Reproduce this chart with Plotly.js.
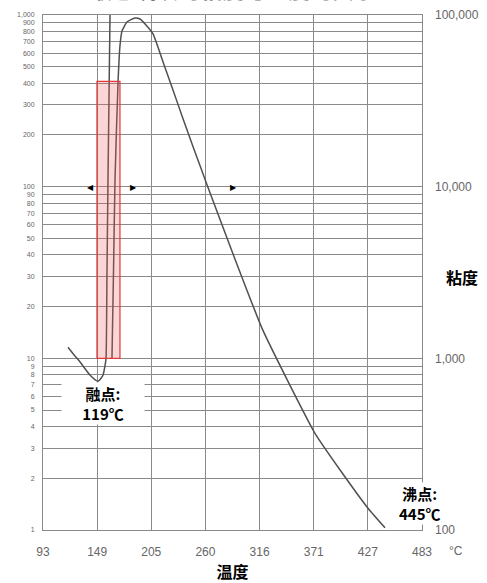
<!DOCTYPE html>
<html><head><meta charset="utf-8">
<script src="https://cdn.plot.ly/plotly-3.0.1.min.js"></script>
<style>html,body{margin:0;padding:0;background:#fff;}#chart{width:487px;height:583px;}</style>
</head><body><div id="chart"></div>
<script>
// Low-viscosity branch (left scale, cP)
const lowTemp = [119, 125, 131.5, 141.7, 149.8, 154.9, 157, 158, 159, 160, 161, 162.1];
const lowVisc = [11.6, 10.5, 9.5, 7.97, 7.35, 7.97, 9.1, 10, 32, 108, 316, 1000];
// High-viscosity branch (right scale, cP)
const highTemp = [164.1, 165.7, 167.2, 170.3, 172.3, 174.4, 179.5, 187.7, 192.9, 199.0, 206.2, 216.5, 226.7, 237.0, 247.3, 261.6, 289.3, 318.1, 344.7, 372.4, 399.1, 426.8, 444.3];
const highVisc = [1000, 3250, 10830, 40250, 66000, 80700, 91000, 96100, 94800, 87500, 77600, 53300, 36600, 24850, 17090, 10270, 3918, 1494, 735, 366, 220, 134, 103];
// Axis ticks (°F grid converted to °C)
const xTickVals = [93.33, 148.89, 204.44, 260, 315.56, 371.11, 426.67, 482.22];
const xTickText = ['93', '149', '205', '260', '316', '371', '427', '483'];
const leftTickVals = [1,2,3,4,5,6,7,8,9,10,20,30,40,50,60,70,80,90,100,200,300,400,500,600,700,800,900,1000];
const leftTickText = ['1','2','3','4','5','6','7','8','9','10','20','30','40','50','60','70','80','90','100','200','300','400','500','600','700','800','900','1,000'];
const rightTickVals = [100, 1000, 10000, 100000];
const rightTickText = ['100', '1,000', '10,000', '100,000'];
// Highlighted transition region
const boxTemp = [148.7, 172.3];
const boxVisc = [10, 410];

const gridCol = '#8a8a8a';
const curve = {color: '#505050', width: 1.5, shape: 'spline', smoothing: 0.5};
const traces = [
  {x: lowTemp, y: lowVisc, mode: 'lines', line: curve, yaxis: 'y', hoverinfo: 'skip'},
  {x: highTemp, y: highVisc, mode: 'lines', line: curve, yaxis: 'y2', hoverinfo: 'skip'}
];
const cjk = 'Noto Sans CJK SC, sans-serif';
const layout = {
  width: 487, height: 583,
  margin: {l: 43, r: 65, t: 15, b: 53},
  paper_bgcolor: '#fff', plot_bgcolor: '#fff',
  showlegend: false,
  xaxis: {
    range: [93.33, 482.22], tickvals: xTickVals, ticktext: xTickText,
    showgrid: true, gridcolor: gridCol, gridwidth: 1, zeroline: false,
    showline: true, linecolor: gridCol, linewidth: 1, mirror: true, ticks: '',
    tickfont: {size: 12, color: '#666', family: 'Liberation Sans, Arial, sans-serif'},
    ticklabelstandoff: 11,
    title: {text: '温度', font: {size: 16, color: '#000', family: cjk, weight: 'bold'}, standoff: 10}
  },
  yaxis: {
    type: 'log', range: [0, 3], tickvals: leftTickVals, ticktext: leftTickText,
    showgrid: true, gridcolor: gridCol, gridwidth: 1, zeroline: false,
    showline: true, linecolor: gridCol, linewidth: 1, mirror: true, ticks: '',
    tickfont: {size: 7, color: '#666', family: 'Liberation Sans Narrow, Arial Narrow, sans-serif'},
    ticklabelstandoff: 6
  },
  yaxis2: {
    type: 'log', range: [2, 5], overlaying: 'y', side: 'right',
    tickvals: rightTickVals, ticktext: rightTickText,
    showgrid: false, zeroline: false, ticks: '', showline: false,
    tickfont: {size: 12, color: '#666', family: 'Liberation Sans, Arial, sans-serif'},
    ticklabelstandoff: 12
  },
  shapes: [
    {type: 'rect', xref: 'x', yref: 'y', x0: boxTemp[0], x1: boxTemp[1], y0: boxVisc[0], y1: boxVisc[1],
     fillcolor: 'rgba(240,90,90,0.25)', line: {color: '#e03a3a', width: 1.2}, layer: 'above'}
  ],
  annotations: [
    {xref: 'paper', yref: 'paper', x: 0.5, y: 1, yshift: 9, text: '液态硫磺的粘度与温度的关系', showarrow: false,
     font: {size: 22, color: '#777', family: cjk, weight: 'bold'}, yanchor: 'bottom'},
    {xref: 'x', yref: 'y', x: 154.5, y: 0.735, text: '融点:<br>119℃', showarrow: false, width: 82,
     xanchor: 'center', yanchor: 'middle',
     font: {size: 15, color: '#000', family: cjk, weight: 'bold'}, bgcolor: '#fff', align: 'center', borderpad: 0},
    {xref: 'x', yref: 'y', x: 480.2, y: 0.154, text: '沸点:<br>445℃', showarrow: false,
     xanchor: 'center', yanchor: 'middle',
     font: {size: 15, color: '#000', family: cjk, weight: 'bold'}, bgcolor: '#fff', align: 'center', borderpad: 0},
    {xref: 'paper', yref: 'paper', x: 1, xshift: 40, y: 0.5, yshift: -4, text: '粘度', showarrow: false,
     xanchor: 'center', yanchor: 'middle',
     font: {size: 16, color: '#000', family: cjk, weight: 'bold'}},
    {xref: 'paper', yref: 'paper', x: 1, xshift: 34, y: 0, yshift: -21, text: '°C', showarrow: false,
     xanchor: 'center', yanchor: 'middle',
     font: {size: 12, color: '#666', family: 'Liberation Sans, Arial, sans-serif'}},
    {xref: 'x', yref: 'y', x: 141.6, y: 2, text: '◀', showarrow: false, font: {size: 8, color: '#000'}},
    {xref: 'x', yref: 'y', x: 185.7, y: 2, text: '▶', showarrow: false, font: {size: 8, color: '#000'}},
    {xref: 'x', yref: 'y', x: 288.3, y: 2, text: '▶', showarrow: false, font: {size: 8, color: '#000'}}
  ]
};
Plotly.newPlot('chart', traces, layout, {displayModeBar: false, staticPlot: true});
</script></body></html>
